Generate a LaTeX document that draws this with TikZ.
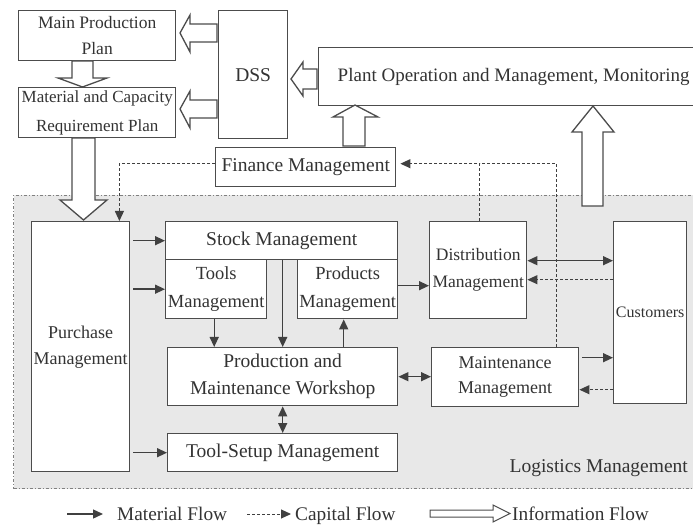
\documentclass[tikz,border=0pt]{standalone}
\usepackage{fontspec}
\setmainfont{Liberation Serif}
\usetikzlibrary{arrows.meta,calc}
\begin{document}
\begin{tikzpicture}[x=1pt,y=-1pt,
  every node/.style={font=\fontsize{19.5}{27}\selectfont, text=black!80},
  box/.style={draw=black!70, fill=white, line width=1.4pt, inner sep=0pt, align=center, anchor=north west},
  region/.style={draw=black!50, fill=black!9, line width=1pt, dash pattern=on 3pt off 2pt on 1pt off 2pt, anchor=north west, inner sep=0pt},
  flow/.style={draw=black!75, line width=1.4pt, -{Triangle[length=10pt,width=9pt]}},
  cflow/.style={draw=black!75, line width=1pt, dash pattern=on 3pt off 2pt, -{Triangle[length=10pt,width=9pt]}},
  cline/.style={draw=black!75, line width=1pt, dash pattern=on 3pt off 2pt},
  both/.style={draw=black!75, line width=1.4pt, {Triangle[length=10pt,width=9pt]}-{Triangle[length=10pt,width=9pt]}},
  info/.style={draw=black!70, fill=white, line width=1.3pt, line join=miter},
  legtext/.style={inner sep=0pt, anchor=base west, font=\fontsize{19.3}{23}\selectfont}
]
\useasboundingbox (0,0) rectangle (693,526);

% logistics region
\node[region, minimum width=700, minimum height=293] (logi) at (13,195) {};

% top boxes
\node[box, minimum width=157, minimum height=50, font=\fontsize{17.5}{26}\selectfont] (mpp) at (18,10) {Main Production\\Plan};
\node[box, minimum width=157, minimum height=50, font=\fontsize{17}{29}\selectfont] (mat) at (18,87) {Material and Capacity\\Requirement Plan};
\node[box, minimum width=69, minimum height=128] (dss) at (218,10) {DSS};
\node[box, minimum width=390, minimum height=58, font=\fontsize{19}{24}\selectfont] (plant) at (318,47) {Plant Operation and Management, Monitoring};
\node[box, minimum width=180, minimum height=39] (fin) at (215,147) {Finance Management};

% logistics boxes
\node[box, minimum width=98, minimum height=250, font=\fontsize{18}{26}\selectfont] (pur) at (31,221) {Purchase\\Management};
\node[box, minimum width=232, minimum height=38] (stock) at (165,221) {Stock Management};
\node[box, minimum width=101, minimum height=59, font=\fontsize{18.5}{28}\selectfont] (tools) at (165,259) {Tools\\Management};
\node[box, minimum width=100, minimum height=59, font=\fontsize{18.5}{28}\selectfont] (prods) at (297,259) {Products\\Management};
\node[box, minimum width=230, minimum height=58] (pmw) at (167,347) {Production and\\Maintenance Workshop};
\node[box, minimum width=230, minimum height=38] (tsm) at (167,433) {Tool-Setup Management};
\node[box, minimum width=97, minimum height=97, font=\fontsize{17.5}{27}\selectfont] (dist) at (429,221) {Distribution\\Management};
\node[box, minimum width=147, minimum height=59, font=\fontsize{18}{25}\selectfont] (maint) at (431,347) {Maintenance\\Management};
\node[box, minimum width=73, minimum height=182, font=\fontsize{16}{20}\selectfont] (cust) at (613,221) {Customers};
\node[inner sep=0pt, anchor=base east] (loglab) at (688,472) {Logistics Management};

% information flow (block arrows)
\path[info] (72,61) -- (72,78) -- (58,78) -- (82.5,87) -- (107,78) -- (93,78) -- (93,61) -- cycle;
\path[info] (72,138) -- (72,200) -- (60,200) -- (83.5,220) -- (107,200) -- (95,200) -- (95,138) -- cycle;
\path[info] (217,24) -- (190,24) -- (190,15) -- (180,33) -- (190,52) -- (190,42) -- (217,42) -- cycle;
\path[info] (217,100) -- (190,100) -- (190,91) -- (180,109) -- (190,128) -- (190,118) -- (217,118) -- cycle;
\path[info] (317,69) -- (303,69) -- (303,62) -- (291,79) -- (303,96) -- (303,89) -- (317,89) -- cycle;
\path[info] (343,146) -- (343,117) -- (333,117) -- (355,105) -- (378,117) -- (365,117) -- (365,146) -- cycle;
\path[info] (582,206) -- (582,132) -- (572,132) -- (593,106) -- (614,132) -- (603,132) -- (603,206) -- cycle;

% material flow
\draw[flow] ($(pur.east |- stock.west)+(3,0)$) -- (stock.west);
\draw[flow] ($(pur.east |- tools.west)+(3,0)$) -- (tools.west);
\draw[flow] ($(pur.east |- tsm.west)+(3,0)$) -- (tsm.west);
\draw[flow] ([xshift=-2pt]tools.south) -- ([xshift=-2pt]tools.south |- pmw.north);
\draw[flow] (stock.south -| pmw.north) -- (pmw.north);
\coordinate (pp) at ($(prods.south)+(-4,0)$);
\draw[flow] (pp |- pmw.north) -- (pp);
\coordinate (pd) at ($(prods.east)+(0,-3.5)$);
\draw[flow] (pd) -- (pd -| dist.west);
\draw[both] (pmw.south) -- (tsm.north);
\draw[both] (pmw.east) -- (pmw.east -| maint.west);
\coordinate (d1) at ($(dist.east)+(0,-9.5)$);
\draw[both] (d1) -- (d1 -| cust.west);
\coordinate (d3) at ($(maint.east)+(0,-19.5)$);
\draw[flow] ($(d3)+(3,0)$) -- (d3 -| cust.west);

% capital flow
\coordinate (d2) at ($(dist.east)+(0,9.5)$);
\draw[cflow] (d2 -| cust.west) -- (d2);
\coordinate (d4) at ($(maint.east)+(0,12.5)$);
\draw[cflow] (d4 -| cust.west) -- (d4);
\coordinate (f1) at ($(fin.east)+(0,-3.5)$);
\coordinate (dn) at ($(dist.north)+(1.5,0)$);
\draw[cflow] (dn) |- ($(f1)+(4,0)$);
\coordinate (m1) at ($(maint.north east)+(-23,0)$);
\draw[cline] (m1) |- (dn |- f1);
\coordinate (f2) at ($(fin.west)+(0,-3.5)$);
\coordinate (p1) at ($(pur.north east)+(-11,0)$);
\draw[cflow] (f2) -| (p1);

% legend
\node[legtext] (lm) at (117,520) {Material Flow};
\coordinate (lm0) at (67,514);
\draw[flow] (lm0) -- ($(lm.west |- lm0)+(-14,0)$);
\node[legtext] (lc) at (295,520) {Capital Flow};
\coordinate (lc0) at (247,514);
\draw[cflow] (lc0) -- ($(lc.west |- lc0)+(-4,0)$);
\node[legtext] (li) at (512,520) {Information Flow};
\path[info, line width=1pt] (430,510) -- (493,510) -- (493,505) -- (510,513.5) -- (493,522) -- (493,517) -- (430,517) -- cycle;
\end{tikzpicture}
\end{document}
